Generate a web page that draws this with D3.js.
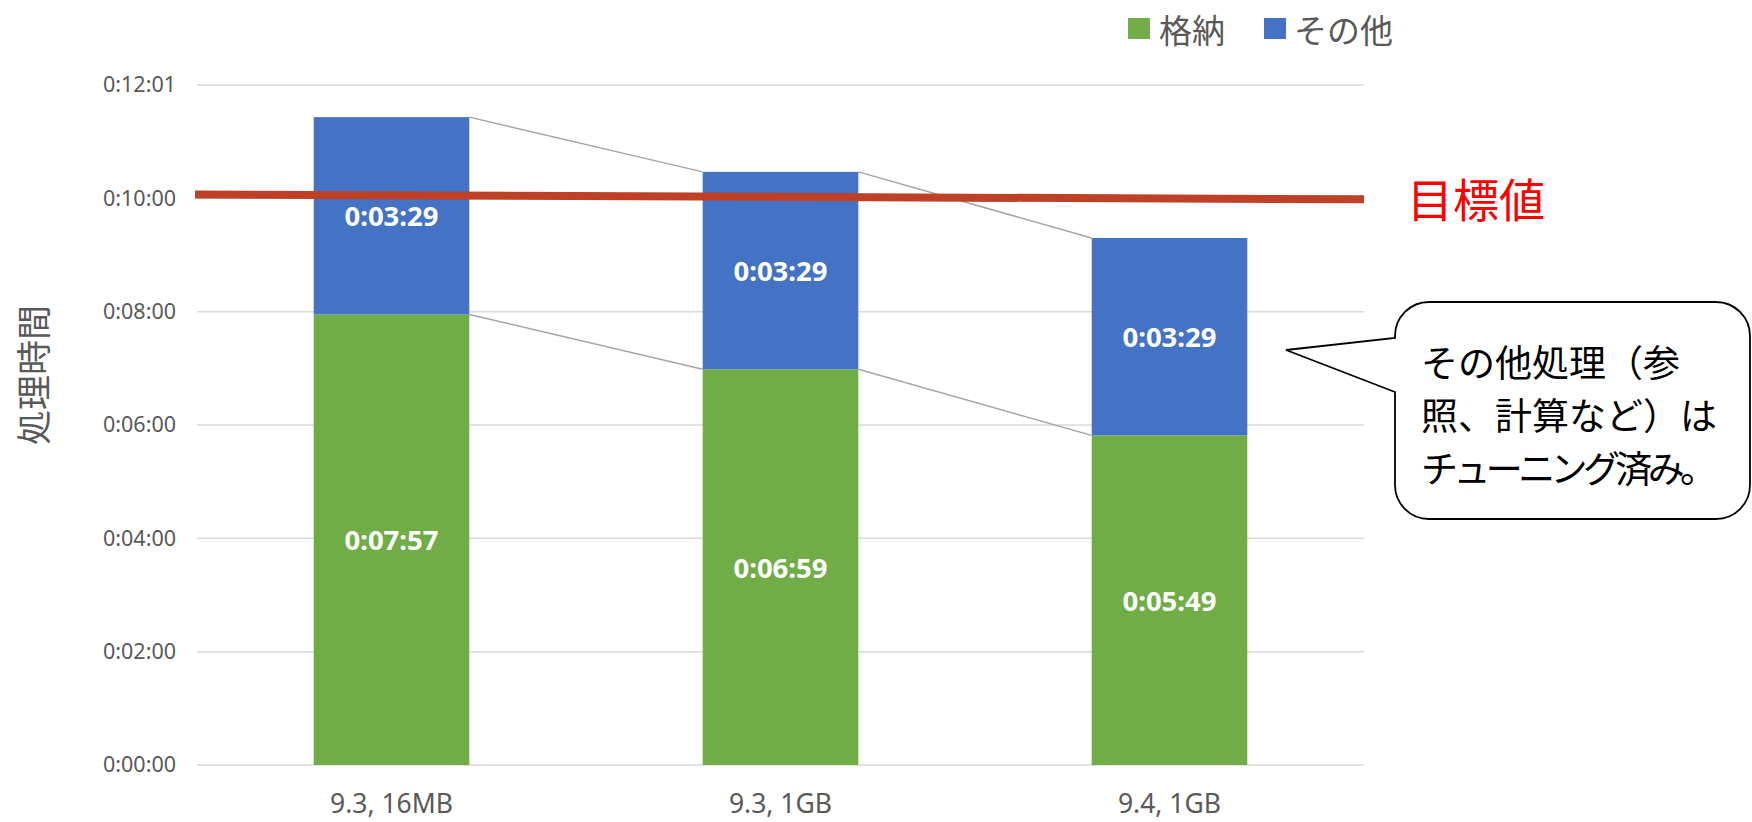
<!DOCTYPE html>
<html>
<head>
<meta charset="utf-8">
<script src="https://cdn.jsdelivr.net/npm/d3@7"></script>
<style>
  html, body { margin: 0; padding: 0; background: #fff; }
  svg { display: block; }
</style>
</head>
<body>
<svg id="chart" width="1752" height="822"></svg>
<script>
// Processing time per configuration, in seconds
const categories = ["9.3, 16MB", "9.3, 1GB", "9.4, 1GB"];
const storeSeconds = [477, 419, 349];   // 格納
const otherSeconds = [209, 209, 209];   // その他
const seriesNames = ["格納", "その他"];
const tickValues = [0, 120, 240, 360, 480, 600, 720];
const tickLabels = ["0:00:00", "0:02:00", "0:04:00", "0:06:00", "0:08:00", "0:10:00", "0:12:01"];
const targetLine = [604, 599];          // 目標値 line, left and right ends
const targetLabel = "目標値";
const yTitle = "処理時間";
const calloutLines = ["その他処理（参", "照、計算など）は", "チューニング済み。"];

const colors = { store: "#70AD47", other: "#4472C4", target: "#BE4027" };
const latin = "'Noto Sans', 'Open Sans', sans-serif";
const cjk = "'Noto Sans CJK JP', 'Noto Sans', sans-serif";

const svg = d3.select("#chart");
const plot = { left: 197, right: 1364, top: 85, bottom: 765 };

const x = d3.scaleBand().domain(categories).range([plot.left, plot.right]).paddingInner(0.6).paddingOuter(0.3);
const y = d3.scaleLinear().domain([0, 720]).range([plot.bottom, plot.top]);

const fmt = s => "0:" + String(Math.floor(s / 60)).padStart(2, "0") + ":" + String(s % 60).padStart(2, "0");

// Gridlines
svg.append("g").selectAll("line").data(tickValues).join("line")
  .attr("x1", plot.left).attr("x2", plot.right)
  .attr("y1", d => y(d)).attr("y2", d => y(d))
  .attr("stroke", "#D9D9D9").attr("stroke-width", 1.5);

// Y axis tick labels
const yAxis = d3.axisLeft(y).tickValues(tickValues).tickSize(0).tickPadding(0)
  .tickFormat((d, i) => tickLabels[i]);
const yg = svg.append("g").attr("transform", "translate(176,0)").call(yAxis);
yg.select(".domain").remove();
yg.selectAll("text").attr("font-family", latin).attr("font-size", 21.5).attr("fill", "#595959");

// X axis labels
const xAxis = d3.axisBottom(x).tickSize(0).tickPadding(0);
const xg = svg.append("g").attr("transform", "translate(0,804)").call(xAxis);
xg.select(".domain").remove();
xg.selectAll("text").attr("font-family", latin).attr("font-size", 26.5).attr("fill", "#595959")
  .attr("dy", "0.35em").attr("y", 0);

// Stacked data
const rows = categories.map((c, i) => ({ cat: c, store: storeSeconds[i], other: otherSeconds[i] }));
const stack = d3.stack().keys(["store", "other"])(rows);

// Series lines joining segment tops between neighbouring bars
const connectors = [];
stack.forEach(layer => {
  for (let i = 0; i < layer.length - 1; i++) {
    connectors.push({
      x1: x(categories[i]) + x.bandwidth(), y1: y(layer[i][1]),
      x2: x(categories[i + 1]), y2: y(layer[i + 1][1])
    });
  }
});
svg.append("g").selectAll("line").data(connectors).join("line")
  .attr("x1", d => d.x1).attr("y1", d => d.y1).attr("x2", d => d.x2).attr("y2", d => d.y2)
  .attr("stroke", "#A5A5A5").attr("stroke-width", 1.5);

// Bars
const layers = svg.append("g").selectAll("g").data(stack).join("g")
  .attr("fill", d => d.key === "store" ? colors.store : colors.other);
layers.selectAll("rect").data(d => d).join("rect")
  .attr("x", d => x(d.data.cat)).attr("width", x.bandwidth())
  .attr("y", d => y(d[1])).attr("height", d => y(d[0]) - y(d[1]));

// Data labels
layers.selectAll("text").data(d => d).join("text")
  .attr("x", d => x(d.data.cat) + x.bandwidth() / 2)
  .attr("y", d => (y(d[0]) + y(d[1])) / 2)
  .attr("text-anchor", "middle").attr("dominant-baseline", "central")
  .attr("font-family", latin).attr("font-weight", "bold").attr("font-size", 27.5)
  .attr("fill", "#fff")
  .text(d => fmt(d[1] - d[0]));

// Target line
const tx = d3.scaleLinear().domain([0, 1]).range([195, 1364]);
svg.append("path")
  .datum(targetLine)
  .attr("d", d3.line().x((d, i) => tx(i)).y(d => y(d)))
  .attr("stroke", colors.target).attr("stroke-width", 8).attr("fill", "none");
svg.append("text")
  .attr("x", 1407).attr("y", 197)
  .attr("dominant-baseline", "central")
  .attr("font-family", cjk).attr("font-size", 46).attr("fill", "#FF0000")
  .text(targetLabel);

// Y axis title
svg.append("text")
  .attr("transform", "translate(31,375) rotate(-90)")
  .attr("text-anchor", "middle").attr("dominant-baseline", "central")
  .attr("font-family", cjk).attr("font-size", 35).attr("fill", "#595959")
  .text(yTitle);

// Legend
const legend = [
  { name: seriesNames[0], color: colors.store, sx: 1128, tx: 1159 },
  { name: seriesNames[1], color: colors.other, sx: 1264, tx: 1294 }
];
const lg = svg.append("g").selectAll("g").data(legend).join("g");
lg.append("rect").attr("x", d => d.sx).attr("y", 18).attr("width", 22).attr("height", 21).attr("fill", d => d.color);
lg.append("text").attr("x", d => d.tx).attr("y", 29).attr("dominant-baseline", "central")
  .attr("font-family", cjk).attr("font-size", 33).attr("fill", "#595959")
  .text(d => d.name);

// Callout bubble
const bx0 = 1395, bx1 = 1750, by0 = 302, by1 = 519, r = 34;
const bubble = d3.path();
bubble.moveTo(bx0 + r, by0);
bubble.lineTo(bx1 - r, by0);
bubble.arcTo(bx1, by0, bx1, by0 + r, r);
bubble.lineTo(bx1, by1 - r);
bubble.arcTo(bx1, by1, bx1 - r, by1, r);
bubble.lineTo(bx0 + r, by1);
bubble.arcTo(bx0, by1, bx0, by1 - r, r);
bubble.lineTo(bx0, 392);
bubble.lineTo(1286, 350);
bubble.lineTo(bx0, 338);
bubble.arcTo(bx0, by0, bx0 + r, by0, r);
bubble.closePath();
svg.append("path").attr("d", bubble.toString())
  .attr("fill", "#fff").attr("stroke", "#000").attr("stroke-width", 1.8);

const callout = svg.append("g").selectAll("text").data(calloutLines).join("text")
  .attr("x", 1421).attr("y", (d, i) => 361 + i * 53)
  .attr("dominant-baseline", "central")
  .attr("font-family", cjk).attr("font-size", 37).attr("fill", "#000")
  .text(d => d);
// The last line is the longest; fit it inside the bubble
callout.filter((d, i) => i === calloutLines.length - 1)
  .attr("textLength", 296).attr("lengthAdjust", "spacing");
</script>
</body>
</html>
